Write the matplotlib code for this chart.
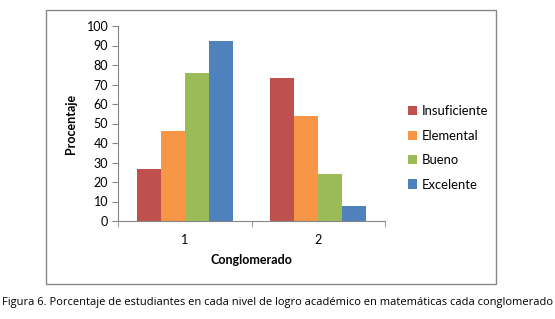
import numpy as np
import matplotlib.pyplot as plt
from matplotlib.patches import Rectangle

# datos
conglomerados = ['1', '2']
niveles = ['Insuficiente', 'Elemental', 'Bueno', 'Excelente']
insuficiente = [26.7, 73.3]
elemental = [46.3, 53.7]
bueno = [75.7, 24.3]
excelente = [92.1, 7.9]
colores = ['#C0504D', '#F79646', '#9BBB59', '#4F81BD']

plt.rcParams['font.family'] = ['Lato', 'DejaVu Sans']

W, H = 555, 319
fig = plt.figure(figsize=(W / 100, H / 100), dpi=100)

# marco del grafico
fig.patches.append(Rectangle((46 / W, 1 - 284 / H), 450 / W, 274 / H,
                             transform=fig.transFigure, fill=False,
                             edgecolor='#868686', linewidth=1))

ax = fig.add_axes([118 / W, 1 - 221 / H, 267 / W, 195 / H])

series = [insuficiente, elemental, bueno, excelente]
x = np.arange(len(conglomerados)) + 0.5
bw = 0.18
for i, (vals, nom) in enumerate(zip(series, niveles)):
    ax.bar(x + (i - 1.5) * bw, vals, bw, color=colores[i], label=nom)

ax.set_xlim(0, 2)
ax.set_ylim(0, 100)
ax.set_yticks(range(0, 101, 10))
ax.set_xticks(x)
ax.set_xticklabels(conglomerados)
ax.set_xticks([0, 1, 2], minor=True)
ax.tick_params(axis='x', which='major', length=0, pad=9, labelsize=9)
ax.tick_params(axis='x', which='minor', length=4, color='#868686')
ax.tick_params(axis='y', length=4, color='#868686', labelsize=9, pad=3)

for s in ['top', 'right']:
    ax.spines[s].set_visible(False)
for s in ['left', 'bottom']:
    ax.spines[s].set_color('#868686')

ax.set_ylabel('Procentaje', fontweight='bold', fontsize=9, labelpad=7)
ax.set_xlabel('Conglomerado', fontweight='bold', fontsize=9, labelpad=6)

ax.legend(loc='center left', bbox_to_anchor=(396 / W, 1 - 148 / H),
          bbox_transform=fig.transFigure, frameon=False, fontsize=9.4,
          handlelength=0.7, handleheight=0.7, handletextpad=0.35,
          labelspacing=0.95)

fig.text(0.5, 1 - 302 / H,
         'Figura 6. Porcentaje de estudiantes en cada nivel de logro académico en matemáticas cada conglomerado',
         ha='center', va='center', fontsize=8.0, family=['Open Sans', 'DejaVu Sans'])

fig.savefig('out.png', dpi=100)
